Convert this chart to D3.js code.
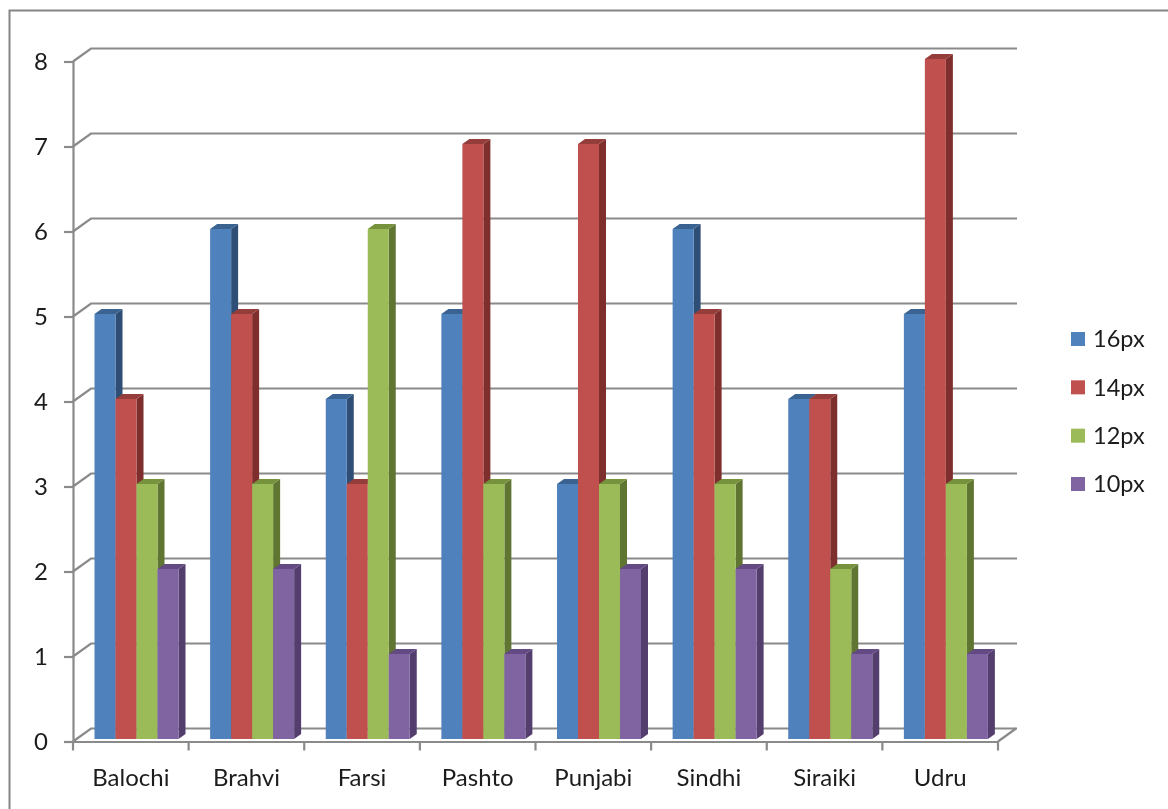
<!DOCTYPE html>
<html lang="en-us">
<head>
<meta charset="utf-8">
<script src="https://cdn.jsdelivr.net/npm/d3@7"></script>
<style>
  html, body { margin: 0; padding: 0; background: #fff; overflow: hidden; }
  /* the source is a slightly soft screenshot */
  svg { filter: blur(0.4px); }
  text { font-family: Lato, "Open Sans", sans-serif; fill: #1c1c1c; }
</style>
</head>
<body>
<svg id="chart" width="1168" height="809"></svg>
<script>
const languages = ['Balochi', 'Brahvi', 'Farsi', 'Pashto', 'Punjabi', 'Sindhi', 'Siraiki', 'Udru'];
const seriesNames = ['16px', '14px', '12px', '10px'];
const values16 = [5, 6, 4, 5, 3, 6, 4, 5];
const values14 = [4, 5, 3, 7, 7, 5, 4, 8];
const values12 = [3, 3, 6, 3, 3, 3, 2, 3];
const values10 = [2, 2, 1, 1, 2, 2, 1, 1];
const yTicks = [0, 1, 2, 3, 4, 5, 6, 7, 8];

const frontColors = ['#4f81bd', '#c0504d', '#9bbb59', '#8064a2'];
const sideColors = ['#2f4e75', '#7e2f2d', '#5f7531', '#533e6e'];
const topColors = ['#3b6391', '#953d3a', '#76923c', '#644a82'];

const allValues = [values16, values14, values12, values10];
const svg = d3.select('#chart');

// outer frame runs off the right and bottom of the picture
svg.append('path').attr('d', 'M9.5,809V10.5H1168')
  .attr('fill', 'none').attr('stroke', '#868686').attr('stroke-width', 2);

const x = d3.scaleBand().domain(languages).range([73, 998]);
const y = d3.scaleLinear().domain([0, 8]).range([741.5, 61.5]);
const inner = d3.scaleBand().domain(seriesNames).range([21.5, 21.5 + 84]);

// fake 3d offsets
const wallDx = 18, wallDy = 13;
const barDx = 7, barDy = 5;
const barLift = 2.5;

const grid = svg.append('g').attr('fill', 'none').attr('stroke', '#8a8a8a').attr('stroke-width', 2.2);
grid.selectAll('path').data(yTicks).enter().append('path')
  .attr('d', d => `M${x.range()[0]},${y(d)}L${x.range()[0] + wallDx},${y(d) - wallDy}H${x.range()[1] + wallDx + 1}`);
grid.append('path')
  .attr('d', `M${x.range()[1]},${y(0)}L${x.range()[1] + wallDx},${y(0) - wallDy}`);

// left axis
const yAxis = svg.append('g').attr('transform', `translate(${x.range()[0]},0)`)
  .call(d3.axisLeft(y).tickValues(yTicks).tickSize(9).tickPadding(16).tickFormat(d3.format('d')));
yAxis.selectAll('.domain, line').attr('stroke', '#8a8a8a').attr('stroke-width', 2.2);
yAxis.selectAll('text').attr('font-size', 24).style('font-family', 'Lato');

// bars, left to right so each one covers the side of the one before it
const groups = svg.append('g').selectAll('g').data(languages).enter().append('g')
  .attr('transform', d => `translate(${x(d)},0)`);

seriesNames.forEach(function(name, s) {
  const w = inner.bandwidth();
  const bx = inner(name);
  const top = (d, i) => y(allValues[s][i]) - barLift;
  const base = y(0) - barLift;

  groups.append('path').attr('fill', sideColors[s])
    .attr('d', (d, i) => `M${bx + w},${top(d, i)}l${barDx},${-barDy}V${base - barDy}L${bx + w},${base}Z`);
  groups.append('path').attr('fill', topColors[s])
    .attr('d', (d, i) => `M${bx},${top(d, i)}l${barDx},${-barDy}h${w}l${-barDx},${barDy}Z`);
  groups.append('rect').attr('fill', frontColors[s])
    .attr('x', bx).attr('width', w)
    .attr('y', (d, i) => top(d, i))
    .attr('height', (d, i) => base - top(d, i));
});

// bottom axis, ticks sit on the band edges
const xAxis = svg.append('g').attr('transform', `translate(0,${y(0)})`)
  .call(d3.axisBottom(x).tickSize(0).tickPadding(27));
xAxis.select('.domain').attr('stroke', '#8a8a8a').attr('stroke-width', 2.2);
xAxis.selectAll('text').attr('font-size', 24).style('font-family', 'Lato');
xAxis.selectAll('.edge').data(d3.range(languages.length + 1)).enter().append('line')
  .attr('class', 'edge')
  .attr('x1', i => x.range()[0] + i * x.step()).attr('x2', i => x.range()[0] + i * x.step())
  .attr('y1', 0).attr('y2', 9)
  .attr('stroke', '#8a8a8a').attr('stroke-width', 2.2);

// legend
const legendY = d3.scalePoint().domain(seriesNames).range([339, 484]);
const legend = svg.append('g').selectAll('g').data(seriesNames).enter().append('g')
  .attr('transform', d => `translate(1071,${legendY(d)})`);
legend.append('rect').attr('x', 0).attr('y', -7).attr('width', 14).attr('height', 14)
  .attr('fill', (d, i) => frontColors[i]);
legend.append('text').attr('x', 22).attr('dy', '0.35em').attr('font-size', 23.5).text(d => d);
</script>
</body>
</html>
